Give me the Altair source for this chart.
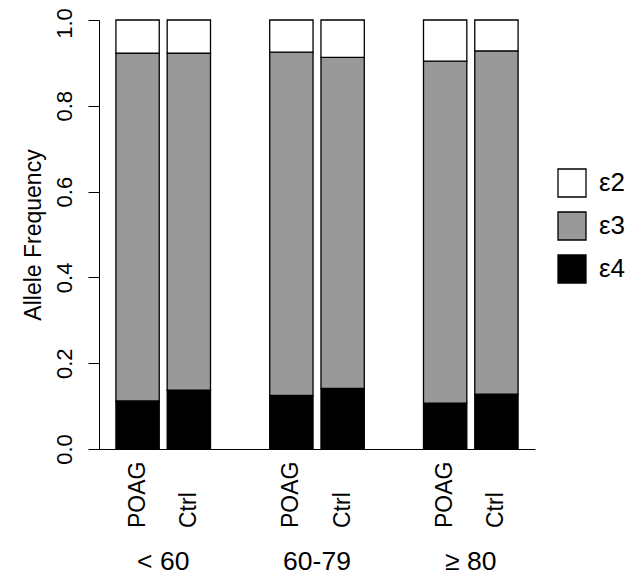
import altair as alt
import pandas as pd

groups = ["< 60", "< 60", "60-79", "60-79", "≥ 80", "≥ 80"]
types = ["POAG", "Ctrl", "POAG", "Ctrl", "POAG", "Ctrl"]
e4 = [0.112, 0.137, 0.125, 0.141, 0.107, 0.128]
e3 = [0.811, 0.786, 0.800, 0.772, 0.797, 0.800]
e2 = [0.077, 0.077, 0.075, 0.087, 0.096, 0.072]
alleles = ["ε2", "ε3", "ε4"]
allele_colors = ["#ffffff", "#999999", "#000000"]
group_order = ["< 60", "60-79", "≥ 80"]
type_order = ["POAG", "Ctrl"]

rows = []
for g, t, a4, a3, a2 in zip(groups, types, e4, e3, e2):
    rows.append({"group": g, "type": t, "allele": "ε4", "ord": 0, "value": a4})
    rows.append({"group": g, "type": t, "allele": "ε3", "ord": 1, "value": a3})
    rows.append({"group": g, "type": t, "allele": "ε2", "ord": 2, "value": a2})
df = pd.DataFrame(rows)
lab = pd.DataFrame({"group": groups, "type": types})

FONT = "Liberation Sans"
W, H = 436, 429

xenc = alt.X(
    "group:N",
    sort=group_order,
    scale=alt.Scale(paddingInner=0.385, paddingOuter=0.11),
    axis=alt.Axis(
        title=None, labelAngle=0, labelFontSize=26.5, labelFont=FONT,
        labelColor="black", labelPadding=99, ticks=False, tickSize=0,
        domain=True, domainColor="black", domainWidth=1,
    ),
)
xoff = alt.XOffset("type:N", sort=type_order, scale=alt.Scale(paddingInner=0.155, paddingOuter=0))

bars = alt.Chart(df).mark_bar(stroke="black", strokeWidth=1.3).encode(
    x=xenc,
    xOffset=xoff,
    y=alt.Y(
        "value:Q",
        stack="zero",
        scale=alt.Scale(domain=[0, 1], nice=False, zero=True),
        axis=alt.Axis(
            title="Allele Frequency", values=[0, 0.2, 0.4, 0.6, 0.8, 1.0], format=".1f",
            labelAngle=270, labelAlign="center", labelBaseline="alphabetic",
            labelFontSize=22, labelFont=FONT, labelColor="black", labelPadding=17,
            labelOffset={"condition": {"test": "datum.value == 1", "value": 3}, "value": 0},
            tickSize=11, tickColor="black", domainColor="black", grid=False,
            titleFont=FONT, titleFontSize=23, titleFontWeight="normal", titleColor="black",
            titleAngle=270, titleBaseline="bottom", titleAlign="center",
            titleX=-54, titleY=H / 2,
        ),
    ),
    color=alt.Color(
        "allele:N",
        scale=alt.Scale(domain=alleles, range=allele_colors),
        legend=alt.Legend(
            title=None, orient="none", legendX=458, legendY=148, padding=0,
            symbolType="square", symbolSize=784, symbolStrokeColor="black",
            symbolStrokeWidth=1.3, symbolOpacity=1,
            labelFontSize=26, labelFont=FONT, labelColor="black", labelOffset=12,
            rowPadding=9,
        ),
    ),
    order=alt.Order("ord:Q", sort="ascending"),
)

labels = alt.Chart(lab).mark_text(
    angle=270, align="left", baseline="middle", fontSize=23, font=FONT, color="black"
).encode(
    x=alt.X("group:N", sort=group_order),
    xOffset=alt.XOffset("type:N", sort=type_order),
    y=alt.value(H + 79),
    text="type:N",
)

chart = alt.layer(bars, labels).properties(
    width=W, height=H,
    autosize=alt.AutoSizeParams(type="none"),
    padding={"left": 91, "top": 12, "right": 90, "bottom": 127},
).configure_view(stroke=None)

chart.save("out.html", embed_options={"renderer": "svg", "actions": False})
